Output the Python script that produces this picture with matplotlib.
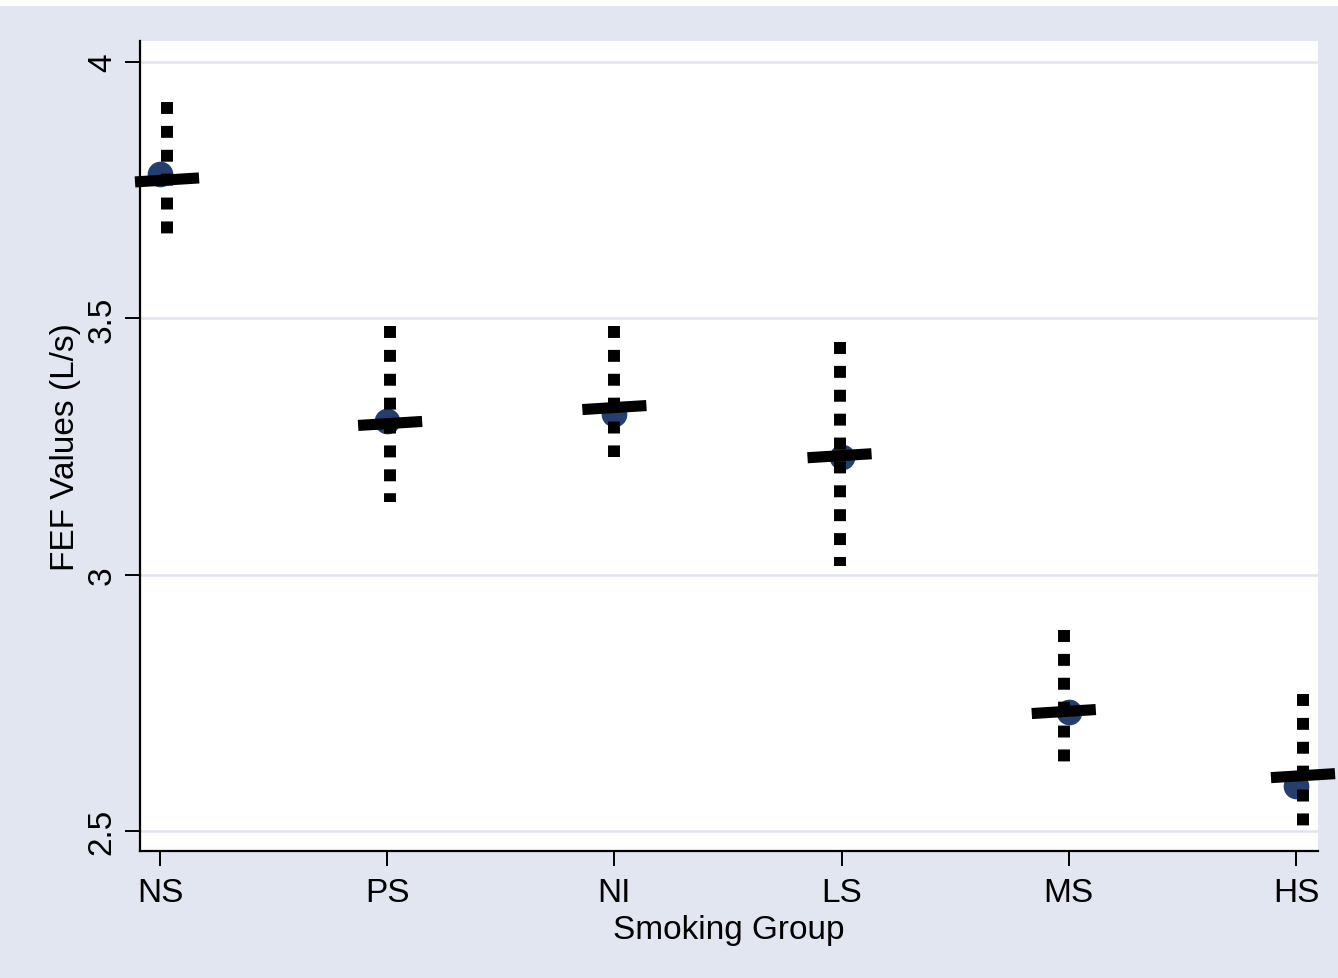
import matplotlib
matplotlib.use("Agg")
import matplotlib.pyplot as plt
from matplotlib.patches import Rectangle

# ---- data ----
groups = ["NS", "PS", "NI", "LS", "MS", "HS"]
means = [3.782, 3.300, 3.313, 3.229, 2.732, 2.588]        # blue dots
fit_values = [3.770, 3.295, 3.326, 3.232, 2.733, 2.608]   # thick bars
ci_high = [3.922, 3.485, 3.485, 3.454, 2.892, 2.767]
ci_low = [3.664, 3.142, 3.230, 3.017, 2.635, 2.510]
jitter = [0.031, 0.013, 0.0, -0.009, -0.022, 0.031]
y_ticks = [2.5, 3, 3.5, 4]
y_tick_labels = ["2.5", "3", "3.5", "4"]

BG = "#e1e6f0"
DOT = "#243f6e"

plt.rcParams["font.family"] = ["Liberation Sans", "DejaVu Sans"]

fig = plt.figure(figsize=(13.38, 9.79), dpi=100)
fig.patch.set_facecolor(BG)
fig.patches.append(Rectangle((0, 1 - 7 / 979), 1, 7 / 979, transform=fig.transFigure,
                             facecolor="white", edgecolor="none", zorder=0))

ax = fig.add_axes([140 / 1338, 1 - 852 / 979, (1318 - 140) / 1338, (852 - 42) / 979])
ax.set_facecolor("white")

xs = list(range(1, len(groups) + 1))
half = 0.141
tilt = 0.0039

for x, m, f, hi, lo, j in zip(xs, means, fit_values, ci_high, ci_low, jitter):
    ax.plot([x], [m], "o", color=DOT, markersize=18.5, zorder=3, markeredgewidth=0)
    ax.plot([x + j, x + j], [hi, lo], color="black", lw=8.6, solid_capstyle="butt",
            dash_capstyle="butt", dashes=(1, 1), zorder=4)
    ax.plot([x + j - half, x + j + half], [f - tilt, f + tilt], color="black", lw=8,
            solid_capstyle="butt", zorder=5, clip_on=False)

ax.set_xlim(0.912, 6.097)
ax.set_ylim(2.461, 4.041)
ax.set_xticks(xs)
ax.set_xticklabels(groups, fontsize=24)
ax.set_yticks(y_ticks)
ax.set_yticklabels(y_tick_labels, fontsize=24, rotation=90, va="center")
ax.yaxis.grid(True, color="#dfe4ee", lw=1.8, zorder=0)
ax.set_axisbelow(True)

for s in ["top", "right"]:
    ax.spines[s].set_visible(False)
for s in ["left", "bottom"]:
    ax.spines[s].set_linewidth(1.6)
    ax.spines[s].set_color("black")
ax.tick_params(axis="both", length=11, width=1.4, color="black")
ax.tick_params(axis="y", pad=5)
ax.tick_params(axis="x", pad=8)

ax.set_xlabel("Smoking Group", fontsize=24, labelpad=4)
ax.set_ylabel("FEF Values (L/s)", fontsize=24, labelpad=4)

fig.savefig("out.png", dpi=100, facecolor=BG)
